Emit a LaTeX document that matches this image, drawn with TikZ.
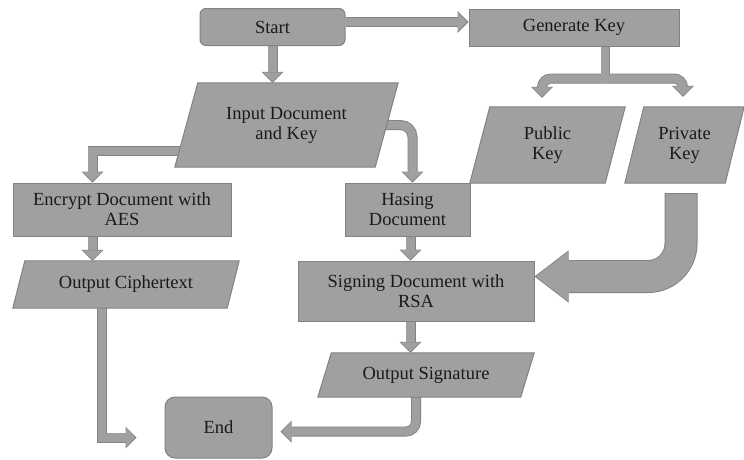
\documentclass[tikz,border=0pt]{standalone}
\usepackage{fontspec}
\setmainfont{Liberation Serif}
\usetikzlibrary{arrows.meta,calc,backgrounds}
\definecolor{boxfill}{HTML}{A0A0A0}
\definecolor{boxline}{HTML}{828282}
\definecolor{txt}{HTML}{1A1A1A}
\tikzset{
  box/.style={draw=boxline, fill=boxfill, line width=1pt},
  lbl/.style={inner sep=0pt, align=center, text=txt, font=\fontsize{18.5}{20}\selectfont},
  sz/.style 2 args={minimum width=#1pt, minimum height=#2pt},
  procbox/.style={lbl, box, rectangle},
  termbox/.style={lbl, box, rectangle, rounded corners=#1},
  arrD/.style={draw=boxline, line width=10pt, -{Triangle[width=22pt,length=11pt,line width=0pt]}},
  arrG/.style={draw=boxfill, line width=8.2pt, shorten >=1.3pt, -{Triangle[width=19.4pt,length=9.2pt,line width=0pt]}},
  stemD/.style={draw=boxline, line width=9pt},
  stemG/.style={draw=boxfill, line width=7.2pt},
  bigD/.style={draw=boxline, line width=33pt, -{Triangle[width=52pt,length=34pt,line width=0pt]}},
  bigG/.style={draw=boxfill, line width=31pt, shorten >=1.5pt, shorten <=1pt, -{Triangle[width=49pt,length=32pt,line width=0pt]}},
}
\newcommand\blk[3][]{\path[#2D,#1] #3; \path[#2G,#1] #3;}
\newcommand\para[2]{\draw[box] ($(#1.north west)+(#2,0)$) -- (#1.north east) -- ($(#1.south east)+(-#2,0)$) -- (#1.south west) -- cycle;}
\begin{document}
\begin{tikzpicture}[x=1pt, y=-1pt]
\useasboundingbox (0,0) rectangle (744,459);
% nodes
\node[termbox=6pt, sz={145}{37}] (start) at (272.5,27) {Start};
\node[procbox, sz={210}{37}] (genkey) at (574,27.5) {Generate Key};
\node[lbl, sz={223}{84}] (input) at (286.5,125) {Input Document\\and Key};
\node[lbl, sz={155}{76}] (public) at (547.5,145) {Public\\Key};
\node[lbl, sz={119}{76}] (private) at (684.5,145) {Private\\Key};
\node[procbox, sz={218}{53}] (encrypt) at (122,209.5) {Encrypt Document with\\AES};
\node[procbox, sz={125}{53}] (hasing) at (407.5,209.5) {Hasing\\Document};
\node[lbl, sz={226}{47}] (cipher) at (126,284.5) {Output Ciphertext};
\node[procbox, sz={236}{60}] (signing) at (416,291) {Signing Document with\\RSA};
\node[lbl, sz={216}{44}] (outsig) at (426,375) {Output Signature};
\node[termbox=10pt, sz={107}{61}] (end) at (218.5,427.5) {End};
% helper coordinates
\coordinate (sg) at ($(start.east)+(0,-5)$);
\coordinate (gj) at ($(genkey.south)+(31,32)$);
\coordinate (pubtip) at ($(public.north)+(-5.5,-9)$);
\coordinate (pritip) at ($(private.north)+(-1.5,-10)$);
\coordinate (ie) at ($(input.south west)+(6,-16)$);
\coordinate (et) at ($(encrypt.north west)+(80,0)$);
\coordinate (ih) at ($(input.east)+(-14,0)$);
\coordinate (ht) at ($(hasing.north)+(5,0)$);
\coordinate (hs) at ($(hasing.south)+(3,0)$);
\coordinate (ce) at ($(cipher.south west)+(89,0)$);
\coordinate (ee) at ($(end.west)+(-28,10)$);
\coordinate (oe) at ($(outsig.south)+(-10,0)$);
\coordinate (ew) at ($(end.east)+(8,4)$);
\coordinate (ps) at ($(private.south)+(-3.5,10)$);
\coordinate (st) at ($(signing.east)+(0,-14.5)$);
\begin{scope}[on background layer]
  % connectors
  \blk{arr}{(start.south) -- (start.south |- input.north)}
  \blk{arr}{(sg) -- (sg -| genkey.west)}
  \path[stemD] (genkey.south -| gj) -- ($(gj)+(0,4)$);
  \path[arrD, rounded corners=9pt] (gj) -- (gj -| pubtip) -- (pubtip);
  \path[arrD, rounded corners=9pt] (gj) -- (gj -| pritip) -- (pritip);
  \path[stemG] (genkey.south -| gj) -- ($(gj)+(0,4)$);
  \path[arrG, rounded corners=9pt] (gj) -- (gj -| pubtip) -- (pubtip);
  \path[arrG, rounded corners=9pt] (gj) -- (gj -| pritip) -- (pritip);
  \blk{arr}{(ie) -- (ie -| et) -- (et)}
  \blk[rounded corners=12pt]{arr}{(ih) -- (ih -| ht) -- (ht)}
  \blk{arr}{(et |- encrypt.south) -- (et |- cipher.north)}
  \blk{arr}{(hs) -- (hs |- signing.north)}
  \blk{arr}{(hs |- signing.south) -- (hs |- outsig.north)}
  \blk{arr}{(ce) -- (ce |- ee) -- (ee)}
  \blk[rounded corners=10pt]{arr}{(oe) -- (oe |- ew) -- (ew)}
  \blk[rounded corners=33pt]{big}{(ps) -- (ps |- st) -- (st)}
  % parallelogram shapes
  \para{input}{23}
  \para{public}{20}
  \para{private}{19}
  \para{cipher}{12}
  \para{outsig}{13.5}
\end{scope}
\end{tikzpicture}
\end{document}
